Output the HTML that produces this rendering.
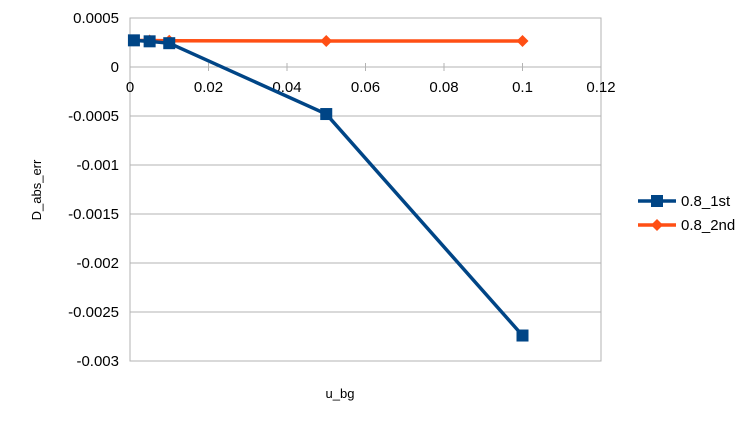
<!DOCTYPE html>
<html><head><meta charset="utf-8"><style>
body{margin:0;background:#fff;font-family:"Liberation Sans",sans-serif}
svg text{font-family:"Liberation Sans",sans-serif;fill:#000}
</style></head><body>
<svg id="c" width="756" height="426"></svg>
<script>
const xVals=[0.001,0.005,0.01,0.05,0.1];
const s1=[0.000272,0.000262,0.000243,-0.00048,-0.00274];
const s2=[0.000272,0.00027,0.000268,0.000265,0.000265];
const yTicks=[0.0005,0,-0.0005,-0.001,-0.0015,-0.002,-0.0025,-0.003];
const yLabels=["0.0005","0","-0.0005","-0.001","-0.0015","-0.002","-0.0025","-0.003"];
const xTicks=[0,0.02,0.04,0.06,0.08,0.1,0.12];
const xLabels=["0","0.02","0.04","0.06","0.08","0.1","0.12"];
const NS="http://www.w3.org/2000/svg",svg=document.getElementById('c');
const X=v=>130+v*(601-130)/0.12, Y=v=>67-v*98000;
function mk(t,a,p){const e=document.createElementNS(NS,t);for(const k in a)e.setAttribute(k,a[k]);(p||svg).appendChild(e);return e;}
yTicks.forEach((t,i)=>{
 const l=mk('line',{x1:130,x2:601,y1:Y(t),y2:Y(t),stroke:'#b3b3b3','stroke-width':1});
 
 
 const tx=mk('text',{x:119,y:Y(t)+5,'text-anchor':'end','font-size':15});tx.textContent=yLabels[i];
 
 
});
const fr=mk('rect',{x:130,y:Y(0.0005),width:471,height:Y(-0.003)-Y(0.0005),fill:'none',stroke:'#b3b3b3'});


xTicks.forEach((t,i)=>{
 const l=mk('line',{x1:X(t),x2:X(t),y1:63,y2:71,stroke:'#b3b3b3'});
 
 
 const tx=mk('text',{x:X(t),y:92,'text-anchor':'middle','font-size':15});tx.textContent=xLabels[i];
 
 
});
function series(vals,color,marker,name){
 const g=mk('g',{});
 
 
 mk('polyline',{points:xVals.map((x,i)=>X(x)+','+Y(vals[i])).join(' '),fill:'none',stroke:color,'stroke-width':3.5,'stroke-linejoin':'round'},g);
 xVals.forEach((x,i)=>{
  const cx=X(x),cy=Y(vals[i]);let m;
  if(marker==='sq')m=mk('rect',{x:cx-6,y:cy-6,width:12,height:12,fill:color},g);
  else m=mk('polygon',{points:`${cx},${cy-6} ${cx+6},${cy} ${cx},${cy+6} ${cx-6},${cy}`,fill:color},g);
  
  
 });
}
series(s2,'#ff4f14','dia','series-0-8-2nd');
series(s1,'#004586','sq','series-0-8-1st');
const yt=mk('text',{x:41,y:190,'text-anchor':'middle','font-size':13,transform:'rotate(-90 41 190)'});yt.textContent='D_abs_err';


const xt=mk('text',{x:340,y:398,'text-anchor':'middle','font-size':13});xt.textContent='u_bg';


[['0.8_1st','#004586','sq',201],['0.8_2nd','#ff4f14','dia',225]].forEach(([n,c,m,y])=>{
 const g=mk('g',{});
 
 
 mk('line',{x1:638,x2:676,y1:y,y2:y,stroke:c,'stroke-width':3.5},g);
 if(m==='sq')mk('rect',{x:651,y:y-6,width:12,height:12,fill:c},g);
 else mk('polygon',{points:`657,${y-6} 663,${y} 657,${y+6} 651,${y}`,fill:c},g);
 const t=mk('text',{x:681,y:y+5,'font-size':15},g);t.textContent=n;
});
</script>
</body></html>
